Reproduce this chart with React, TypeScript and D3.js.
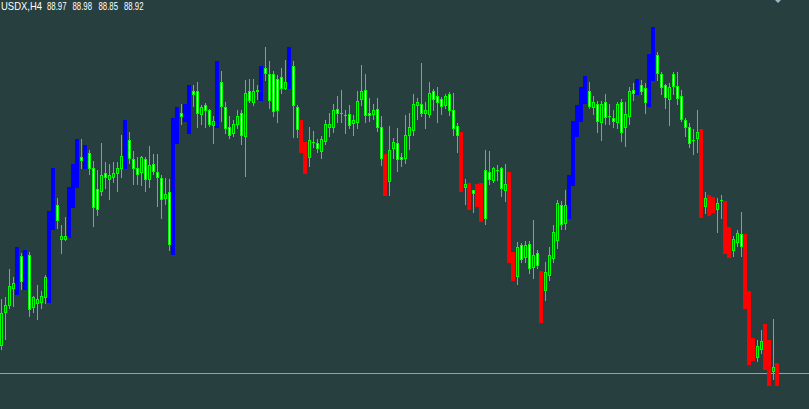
import React from "react";
import * as d3 from "d3";

// USDX H4 candles (prices)
const openP = [
  89.090, 89.288, 89.330, 89.432, 89.420, 89.624, 89.450, 89.630, 89.318, 89.342,
  89.348, 89.378, 89.372, 89.810, 89.930, 89.726, 89.726, 89.762, 89.942, 90.062,
  90.218, 90.170, 90.242, 90.152, 90.026, 90.014, 90.122, 90.086, 90.098, 90.122,
  90.152, 90.176, 90.320, 90.206, 90.152, 90.128, 90.206, 90.086, 90.176, 90.128,
  90.092, 89.972, 90.008, 89.660, 90.326, 90.482, 90.452, 90.386, 90.614, 90.614,
  90.476, 90.530, 90.500, 90.410, 90.422, 90.668, 90.518, 90.398, 90.362, 90.416,
  90.482, 90.344, 90.614, 90.548, 90.620, 90.584, 90.752, 90.716, 90.716, 90.686,
  90.698, 90.632, 90.656, 90.764, 90.518, 90.416, 90.284, 90.218, 90.308, 90.302,
  90.254, 90.314, 90.398, 90.398, 90.506, 90.482, 90.470, 90.476, 90.422, 90.428,
  90.566, 90.620, 90.482, 90.476, 90.506, 90.398, 90.212, 90.074, 90.272, 90.302,
  90.218, 90.212, 90.350, 90.380, 90.530, 90.536, 90.482, 90.476, 90.614, 90.584,
  90.566, 90.530, 90.596, 90.500, 90.404, 90.344, 90.038, 90.044, 90.020, 90.032,
  90.038, 90.140, 90.128, 90.080, 90.140, 90.152, 90.020, 90.104, 89.630, 89.504,
  89.690, 89.618, 89.696, 89.558, 89.642, 89.510, 89.420, 89.510, 89.612, 89.720,
  89.930, 89.822, 89.876, 90.074, 90.368, 90.458, 90.566, 90.614, 90.518, 90.536,
  90.428, 90.548, 90.464, 90.452, 90.428, 90.548, 90.398, 90.464, 90.620, 90.608,
  90.650, 90.632, 90.548, 90.704, 90.830, 90.716, 90.650, 90.566, 90.716, 90.644,
  90.584, 90.440, 90.398, 90.320, 90.332, 90.362, 89.924, 89.966, 89.960, 89.906,
  89.960, 89.930, 89.774, 89.660, 89.708, 89.756, 89.732, 89.390, 89.114, 89.018,
  89.066, 89.192, 89.096, 88.934, 88.970,
];
const highP = [
  89.366, 89.378, 89.546, 89.498, 89.678, 89.642, 89.660, 89.648, 89.384, 89.450,
  89.414, 89.510, 89.894, 90.152, 89.972, 89.810, 89.858, 90.038, 90.176, 90.326,
  90.326, 90.290, 90.260, 90.194, 90.140, 90.302, 90.188, 90.176, 90.188, 90.188,
  90.350, 90.440, 90.368, 90.254, 90.218, 90.224, 90.218, 90.284, 90.236, 90.236,
  90.110, 90.092, 90.086, 90.452, 90.518, 90.536, 90.536, 90.650, 90.650, 90.668,
  90.530, 90.542, 90.506, 90.464, 90.794, 90.734, 90.548, 90.464, 90.440, 90.500,
  90.500, 90.680, 90.686, 90.686, 90.650, 90.764, 90.878, 90.794, 90.734, 90.710,
  90.752, 90.800, 90.878, 90.794, 90.530, 90.440, 90.308, 90.398, 90.374, 90.326,
  90.344, 90.440, 90.482, 90.536, 90.584, 90.620, 90.500, 90.530, 90.470, 90.614,
  90.770, 90.716, 90.572, 90.536, 90.572, 90.464, 90.236, 90.404, 90.332, 90.392,
  90.242, 90.470, 90.482, 90.596, 90.572, 90.782, 90.548, 90.668, 90.626, 90.638,
  90.578, 90.596, 90.608, 90.602, 90.422, 90.368, 90.086, 90.062, 90.020, 90.056,
  90.062, 90.260, 90.254, 90.158, 90.170, 90.158, 90.176, 90.128, 89.648, 89.708,
  89.702, 89.714, 89.714, 89.840, 89.660, 89.534, 89.588, 89.678, 89.810, 89.960,
  89.954, 90.020, 90.110, 90.434, 90.530, 90.638, 90.704, 90.668, 90.584, 90.554,
  90.554, 90.596, 90.536, 90.500, 90.548, 90.566, 90.548, 90.638, 90.662, 90.686,
  90.680, 90.662, 90.836, 90.998, 90.848, 90.728, 90.656, 90.662, 90.728, 90.728,
  90.620, 90.452, 90.422, 90.386, 90.500, 90.386, 90.008, 89.990, 89.978, 89.972,
  89.990, 89.954, 89.798, 89.744, 89.780, 89.888, 89.756, 89.414, 89.132, 89.120,
  89.180, 89.216, 89.120, 89.246, 88.980,
];
const lowP = [
  89.066, 89.126, 89.312, 89.324, 89.396, 89.426, 89.426, 89.264, 89.288, 89.246,
  89.312, 89.342, 89.348, 89.786, 89.792, 89.642, 89.720, 89.738, 89.918, 90.038,
  90.152, 90.152, 90.116, 89.804, 89.870, 89.990, 90.032, 89.966, 90.068, 90.014,
  90.098, 90.152, 90.182, 90.056, 90.056, 90.050, 90.014, 90.038, 90.116, 89.924,
  89.852, 89.936, 89.660, 89.636, 90.302, 90.416, 90.434, 90.362, 90.524, 90.398,
  90.416, 90.398, 90.404, 90.302, 90.398, 90.434, 90.362, 90.332, 90.344, 90.392,
  90.296, 90.104, 90.548, 90.530, 90.566, 90.560, 90.680, 90.512, 90.464, 90.428,
  90.602, 90.626, 90.632, 90.338, 90.338, 90.248, 90.122, 90.164, 90.278, 90.248,
  90.212, 90.296, 90.344, 90.368, 90.428, 90.428, 90.362, 90.392, 90.350, 90.392,
  90.530, 90.428, 90.434, 90.446, 90.374, 90.170, 89.990, 89.990, 90.212, 90.134,
  90.164, 90.182, 90.266, 90.350, 90.446, 90.464, 90.392, 90.458, 90.500, 90.428,
  90.476, 90.512, 90.470, 90.350, 90.248, 90.014, 89.936, 89.906, 89.888, 89.924,
  89.834, 89.816, 90.056, 90.068, 90.080, 89.984, 89.954, 89.588, 89.480, 89.456,
  89.588, 89.588, 89.522, 89.492, 89.552, 89.228, 89.360, 89.480, 89.588, 89.672,
  89.786, 89.786, 89.852, 90.050, 90.344, 90.434, 90.542, 90.512, 90.476, 90.368,
  90.320, 90.416, 90.416, 90.398, 90.392, 90.314, 90.284, 90.416, 90.560, 90.596,
  90.596, 90.482, 90.524, 90.680, 90.680, 90.596, 90.512, 90.410, 90.596, 90.536,
  90.434, 90.344, 90.278, 90.236, 90.248, 89.858, 89.882, 89.870, 89.888, 89.768,
  89.852, 89.642, 89.618, 89.624, 89.684, 89.624, 89.312, 88.976, 89.000, 88.994,
  89.042, 88.946, 88.850, 88.886, 88.850,
];
const closeP = [
  89.282, 89.330, 89.444, 89.462, 89.660, 89.474, 89.630, 89.306, 89.378, 89.366,
  89.384, 89.498, 89.870, 90.128, 89.840, 89.744, 89.744, 90.020, 90.152, 90.302,
  90.200, 90.272, 90.152, 89.918, 89.906, 90.110, 90.098, 90.110, 90.122, 90.152,
  90.224, 90.416, 90.212, 90.152, 90.116, 90.218, 90.086, 90.170, 90.134, 90.098,
  89.966, 89.996, 89.696, 90.428, 90.494, 90.464, 90.518, 90.626, 90.596, 90.482,
  90.518, 90.500, 90.416, 90.434, 90.770, 90.524, 90.392, 90.350, 90.416, 90.464,
  90.350, 90.602, 90.560, 90.614, 90.614, 90.740, 90.722, 90.560, 90.494, 90.500,
  90.632, 90.668, 90.854, 90.530, 90.386, 90.272, 90.146, 90.320, 90.308, 90.272,
  90.326, 90.416, 90.416, 90.500, 90.482, 90.482, 90.470, 90.410, 90.440, 90.554,
  90.614, 90.470, 90.470, 90.500, 90.398, 90.212, 90.014, 90.260, 90.308, 90.206,
  90.206, 90.350, 90.398, 90.536, 90.548, 90.482, 90.500, 90.602, 90.566, 90.548,
  90.524, 90.584, 90.500, 90.392, 90.350, 90.038, 90.056, 89.930, 90.002, 89.942,
  89.858, 89.852, 90.086, 90.152, 90.140, 90.032, 90.056, 89.612, 89.504, 89.678,
  89.606, 89.690, 89.552, 89.630, 89.570, 89.252, 89.528, 89.630, 89.768, 89.942,
  89.816, 89.930, 90.086, 90.410, 90.506, 90.614, 90.680, 90.524, 90.548, 90.434,
  90.536, 90.458, 90.464, 90.434, 90.536, 90.368, 90.476, 90.614, 90.602, 90.674,
  90.614, 90.548, 90.812, 90.974, 90.722, 90.638, 90.578, 90.638, 90.644, 90.572,
  90.446, 90.398, 90.302, 90.320, 90.368, 89.882, 89.972, 89.894, 89.906, 89.942,
  89.960, 89.666, 89.642, 89.726, 89.762, 89.684, 89.336, 89.000, 89.018, 89.084,
  89.114, 88.970, 88.874, 88.958, 88.920,
];
// indicator highlight bars (high-low histogram)
const blueBars = [4, 6, 12, 13, 17, 18, 19, 21, 31, 43, 44, 46, 47, 54, 65, 72, 142, 143, 144, 145, 146, 159, 162, 163];
const redBars = [75, 76, 96, 115, 117, 119, 120, 127, 128, 135, 175, 177, 178, 181, 182, 186, 187, 188, 191, 192, 194];

const symbolLabel = "USDX,H4";
const lastQuote = ["88.97", "88.98", "88.85", "88.92"];
const bidPrice = 88.92;

const W = 809;
const H = 409;
const BG = "#283f3f";
const GREEN = "#00ff00";

export default function App() {
  const y = d3.scaleLinear().domain([91.16, 91.16 - 0.006 * H]).range([0, H]);
  const x = d3.scaleLinear().domain([0, 1]).range([0, 4]);
  const blueSet = new Set(blueBars);
  const redSet = new Set(redBars);
  const n = openP.length;
  const idx = d3.range(n);
  const ry = (v: number) => Math.round(y(v));
  const bidY = ry(bidPrice) + 0.5;
  const quoteX = [47, 72.5, 98.5, 124];

  return (
    <svg
      width={W}
      height={H}
      style={{ position: "fixed", left: 0, top: 0, display: "block" }}
    >
      <rect x={0} y={0} width={W} height={H} fill={BG} />
      <line x1={0} x2={W} y1={bidY} y2={bidY} stroke="#93a3a3" strokeWidth={1} />
      {idx.map((i) => {
        const x0 = x(i);
        if (blueSet.has(i) || redSet.has(i)) return null;
        const o = openP[i], c = closeP[i];
        const top = ry(Math.max(o, c));
        const bot = ry(Math.min(o, c));
        const hy = ry(highP[i]);
        const ly = ry(lowP[i]);
        const bear = c < o;
        return (
          <g key={"c" + i}>
            <line x1={x0 + 1.5} x2={x0 + 1.5} y1={hy} y2={ly + 1} stroke={GREEN} strokeWidth={1} />
            {bot - top < 1 ? (
              <line x1={x0} x2={x0 + 3} y1={top + 0.5} y2={top + 0.5} stroke={GREEN} strokeWidth={1} />
            ) : (
              <rect
                x={x0 + 0.5}
                y={top + 0.5}
                width={2}
                height={bot - top}
                fill={bear ? "#ffffff" : BG}
                stroke={GREEN}
                strokeWidth={1}
              />
            )}
          </g>
        );
      })}
      {idx
        .filter((i) => blueSet.has(i) || redSet.has(i))
        .map((i) => {
          const hy = ry(highP[i]);
          const ly = ry(lowP[i]);
          return (
            <rect
              key={"b" + i}
              x={x(i) - 1}
              y={hy}
              width={4}
              height={ly - hy + 1}
              fill={blueSet.has(i) ? "#0000ff" : "#ff0000"}
            />
          );
        })}
      <polygon points="775,0 781,0 778,3" fill="#a3b3c6" />
      <g fill="#ffffff" fontFamily="'Liberation Sans', Arial, sans-serif" fontSize={11}>
        <text x={1} y={10} textLength={41} lengthAdjust="spacingAndGlyphs">
          {symbolLabel}
        </text>
        {lastQuote.map((q, k) => (
          <text key={q + k} x={quoteX[k]} y={10} textLength={19.5} lengthAdjust="spacingAndGlyphs">
            {q}
          </text>
        ))}
      </g>
    </svg>
  );
}
